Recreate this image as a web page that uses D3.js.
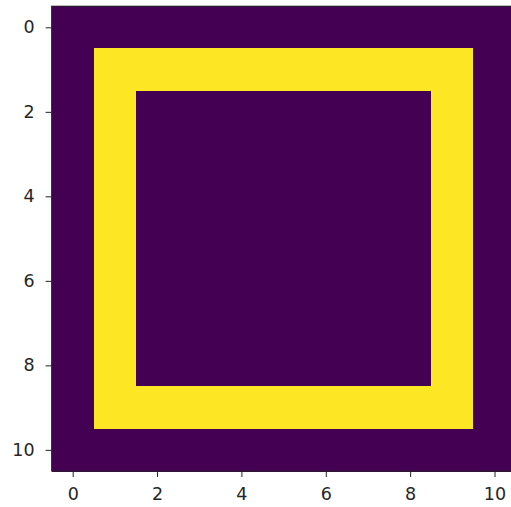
<!DOCTYPE html>
<html><head><meta charset="utf-8">
<script src="https://cdn.jsdelivr.net/npm/d3@7"></script>
<style>html,body{margin:0;padding:0;background:#fff;overflow:hidden}</style>
</head><body>
<svg id="c" width="511" height="507"></svg>
<script>
const grid = [
  [0,0,0,0,0,0,0,0,0,0,0],
  [0,1,1,1,1,1,1,1,1,1,0],
  [0,1,0,0,0,0,0,0,0,1,0],
  [0,1,0,0,0,0,0,0,0,1,0],
  [0,1,0,0,0,0,0,0,0,1,0],
  [0,1,0,0,0,0,0,0,0,1,0],
  [0,1,0,0,0,0,0,0,0,1,0],
  [0,1,0,0,0,0,0,0,0,1,0],
  [0,1,0,0,0,0,0,0,0,1,0],
  [0,1,1,1,1,1,1,1,1,1,0],
  [0,0,0,0,0,0,0,0,0,0,0]
];
const xTicks = [0,2,4,6,8,10];
const yTicks = [0,2,4,6,8,10];

const svg = d3.select("#c");
const L = 51.6, R = 515.6, T = 6.2, B = 471;
const x = d3.scaleLinear().domain([-0.5, 10.5]).range([L, R]);
const y = d3.scaleLinear().domain([-0.5, 10.5]).range([T, B]);
const color = v => d3.interpolateViridis(v);

const cells = [];
grid.forEach((row, r) => row.forEach((v, c) => cells.push({r, c, v})));
svg.append("g").selectAll("rect").data(cells).join("rect")
  .attr("x", d => x(d.c - 0.5))
  .attr("y", d => y(d.r - 0.5))
  .attr("width", d => x(d.c + 0.5) - x(d.c - 0.5) + 0.5)
  .attr("height", d => y(d.r + 0.5) - y(d.r - 0.5) + 0.5)
  .attr("fill", d => color(d.v))
  .attr("shape-rendering", "crispEdges");

const font = "'DejaVu Sans', sans-serif";
const xa = svg.append("g").attr("transform", `translate(0,${B})`)
  .call(d3.axisBottom(x).tickValues(xTicks).tickSize(6).tickPadding(10.5).tickFormat(d3.format("d")));
const ya = svg.append("g").attr("transform", `translate(${L},0)`)
  .call(d3.axisLeft(y).tickValues(yTicks).tickSize(6).tickPadding(11).tickFormat(d3.format("d")));
[xa, ya].forEach(a => {
  a.select(".domain").remove();
  a.selectAll("line").attr("stroke", "#222").attr("stroke-width", 1);
  a.selectAll("text").attr("fill", "#262626").style("font-family", font).style("font-size", "17.5px");
});
svg.append("rect").attr("x", L).attr("y", T).attr("width", R - L).attr("height", B - T)
  .attr("fill", "none").attr("stroke", "#222").attr("stroke-width", 1);
</script>
</body></html>
